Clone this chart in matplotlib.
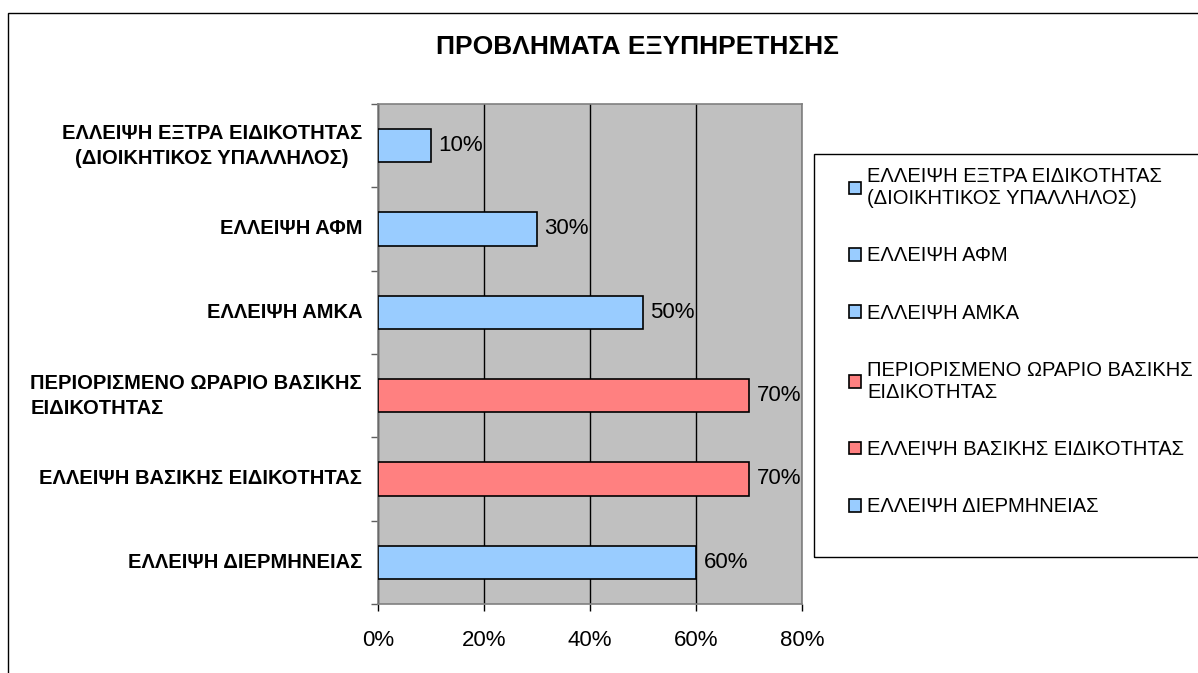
import matplotlib
matplotlib.use("Agg")
from matplotlib import pyplot as plt
from matplotlib.patches import Rectangle
from matplotlib import ticker

# data (bottom to top, as in the chart)
categories = [
    "ΕΛΛΕΙΨΗ ΔΙΕΡΜΗΝΕΙΑΣ",
    "ΕΛΛΕΙΨΗ ΒΑΣΙΚΗΣ ΕΙΔΙΚΟΤΗΤΑΣ",
    "ΠΕΡΙΟΡΙΣΜΕΝΟ ΩΡΑΡΙΟ ΒΑΣΙΚΗΣ\nΕΙΔΙΚΟΤΗΤΑΣ",
    "ΕΛΛΕΙΨΗ ΑΜΚΑ",
    "ΕΛΛΕΙΨΗ ΑΦΜ",
    "ΕΛΛΕΙΨΗ ΕΞΤΡΑ ΕΙΔΙΚΟΤΗΤΑΣ\n(ΔΙΟΙΚΗΤΙΚΟΣ ΥΠΑΛΛΗΛΟΣ)",
]
values = [0.60, 0.70, 0.70, 0.50, 0.30, 0.10]
colors = ["#99CCFF", "#FF8080", "#FF8080", "#99CCFF", "#99CCFF", "#99CCFF"]
label_align = ["center", "center", "left", "center", "center", "center"]
x_ticks = [0, 0.2, 0.4, 0.6, 0.8]
title = "ΠΡΟΒΛΗΜΑΤΑ ΕΞΥΠΗΡΕΤΗΣΗΣ"

plt.rcParams['font.family'] = ['Liberation Sans', 'DejaVu Sans']

W, H = 1198, 673
fig = plt.figure(figsize=(W / 100, H / 100), dpi=100)
ax = fig.add_axes([378 / W, 1 - 604 / H, (802 - 378) / W, (604 - 104) / H])
ax.set_facecolor("#C0C0C0")

pos = list(range(len(categories)))
ax.barh(pos, values, height=0.4, color=colors, edgecolor="black", linewidth=1.2, zorder=3)
for p, v in zip(pos, values):
    ax.text(v + 0.014, p, "%d%%" % round(v * 100), va="center", ha="left",
            fontsize=16, zorder=4)

ax.set_xlim(0, 0.8)
ax.set_ylim(-0.5, len(categories) - 0.5)
ax.set_xticks(x_ticks)
ax.xaxis.set_major_formatter(ticker.PercentFormatter(1.0, decimals=0))
ax.tick_params(axis="x", labelsize=16, length=5, width=1, color="black", pad=14)
ax.grid(axis="x", color="black", linewidth=1, zorder=1)

# category ticks at the band boundaries, labels at the band centres
ax.set_yticks([p - 0.5 for p in pos] + [pos[-1] + 0.5])
ax.set_yticklabels([])
ax.tick_params(axis="y", length=5, width=1, color="#606060")
for p, c, al in zip(pos, categories, label_align):
    ax.text(-0.030, p, c, ha="right", va="center", multialignment=al,
            fontsize=14.5, fontweight="bold", linespacing=1.4)

for s in ax.spines.values():
    s.set_color("#808080")
    s.set_linewidth(1.2)

fig.text(637 / W, 1 - 47 / H, title, ha="center", va="center",
         fontsize=19, fontweight="bold")

# legend (top to bottom = chart order top to bottom)
handles = [Rectangle((0, 0), 1, 1, facecolor=c, edgecolor="black", linewidth=1.2)
           for c in colors[::-1]]
leg = fig.legend(handles, categories[::-1], loc="upper left",
                 bbox_to_anchor=(849 / W, 1 - 167 / H), frameon=False,
                 fontsize=14.5, handlelength=0.6, handleheight=0.6,
                 handletextpad=0.3, labelspacing=1.9, borderpad=0,
                 borderaxespad=0)
fig.add_artist(Rectangle((814 / W, 1 - 557 / H), 0.5, (557 - 154) / H,
                         transform=fig.transFigure, fill=False,
                         edgecolor="black", linewidth=1, clip_on=False))

# chart border
fig.add_artist(Rectangle((8 / W, -0.1), 1.2, 1.1 - 13 / H,
                         transform=fig.transFigure, fill=False,
                         edgecolor="black", linewidth=1, clip_on=False))

fig.savefig("out.png", dpi=100, facecolor="white")
